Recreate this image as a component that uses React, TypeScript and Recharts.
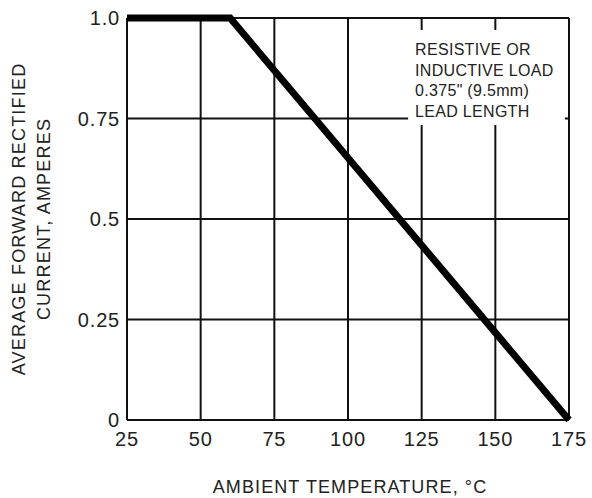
import React from 'react';
import { LineChart, Line, XAxis, YAxis, CartesianGrid, ReferenceArea, Label } from 'recharts';

const temps = [25, 60, 175];
const currents = [1.0, 1.0, 0];
const xTicks = [25, 50, 75, 100, 125, 150, 175];
const yTicks = [0, 0.25, 0.5, 0.75, 1.0];
const yTickLabels = ['0', '0.25', '0.5', '0.75', '1.0'];
const noteLines = ['RESISTIVE OR', 'INDUCTIVE LOAD', '0.375" (9.5mm)', 'LEAD LENGTH'];
const noteBox = { x1: 120.4, x2: 173.6, y1: 0.734, y2: 0.97 };
const yLabelLines = ['AVERAGE FORWARD RECTIFIED', 'CURRENT, AMPERES'];
const xLabel = 'AMBIENT TEMPERATURE, \u00B0C';

const data = temps.map((t, i) => ({ t, i: currents[i] }));

const FONT = '"Liberation Sans", Arial, Helvetica, sans-serif';
const TEXT_COLOR = '#222';

const XTick = (props: any) => {
  const { x, y, payload } = props;
  return (
    <text x={x} y={y} dy={18} textAnchor="middle" fontFamily={FONT} fontSize={20} letterSpacing={0.8} fill={TEXT_COLOR}>
      {payload.value}
    </text>
  );
};

const YTick = (props: any) => {
  const { x, y, payload } = props;
  const idx = yTicks.indexOf(payload.value);
  const label = idx >= 0 ? yTickLabels[idx] : String(payload.value);
  return (
    <text x={x} y={y} dx={1} dy={7} textAnchor="end" fontFamily={FONT} fontSize={20} letterSpacing={0.8} fill={TEXT_COLOR}>
      {label}
    </text>
  );
};

const NoteLabel = (props: any) => {
  const vb = props.viewBox || {};
  const left = vb.x + 7;
  const top = vb.y;
  return (
    <g>
      {noteLines.map((ln, k) => (
        <text key={k} x={left} y={top + 25 + k * 20.5} fontFamily={FONT} fontSize={16} letterSpacing={0.3} fill={TEXT_COLOR}>
          {ln}
        </text>
      ))}
    </g>
  );
};

const YAxisLabel = (props: any) => {
  const vb = props.viewBox || {};
  const cy = vb.y + vb.height / 2;
  const xs = [19, 44];
  return (
    <g>
      {yLabelLines.map((ln, k) => (
        <text
          key={k}
          x={xs[k]}
          y={cy}
          dy={6}
          textAnchor="middle"
          transform={`rotate(-90, ${xs[k]}, ${cy})`}
          fontFamily={FONT}
          fontSize={18}
          letterSpacing={1.2}
          fill={TEXT_COLOR}
        >
          {ln}
        </text>
      ))}
    </g>
  );
};

const XAxisLabel = (props: any) => {
  const vb = props.viewBox || {};
  const cx = vb.x + vb.width / 2;
  return (
    <text x={cx + 2} y={493} textAnchor="middle" fontFamily={FONT} fontSize={18} letterSpacing={1.1} fill={TEXT_COLOR}>
      {xLabel}
    </text>
  );
};

export default function App() {
  return (
    <div style={{ position: 'absolute', left: 0, top: 0, width: 592, height: 498, background: '#fff' }}>
      <LineChart width={592} height={498} data={data} margin={{ top: 18, right: 23, bottom: 38, left: 67 }}>
        <CartesianGrid stroke="#111" strokeWidth={2} vertical horizontal />
        <XAxis
          dataKey="t"
          type="number"
          domain={[25, 175]}
          ticks={xTicks}
          axisLine={false}
          tickLine={false}
          tick={<XTick />}
          height={40}
          interval={0}
        >
          <Label content={<XAxisLabel />} />
        </XAxis>
        <YAxis
          type="number"
          domain={[0, 1]}
          ticks={yTicks}
          axisLine={false}
          tickLine={false}
          tick={<YTick />}
          width={60}
          interval={0}
        >
          <Label content={<YAxisLabel />} />
        </YAxis>
        <ReferenceArea
          x1={noteBox.x1}
          x2={noteBox.x2}
          y1={noteBox.y1}
          y2={noteBox.y2}
          fill="#fff"
          fillOpacity={1}
          stroke="none"
          ifOverflow="visible"
        >
          <Label content={<NoteLabel />} />
        </ReferenceArea>
        <Line
          type="linear"
          dataKey="i"
          stroke="#000"
          strokeWidth={7}
          dot={false}
          isAnimationActive={false}
        />
      </LineChart>
    </div>
  );
}
